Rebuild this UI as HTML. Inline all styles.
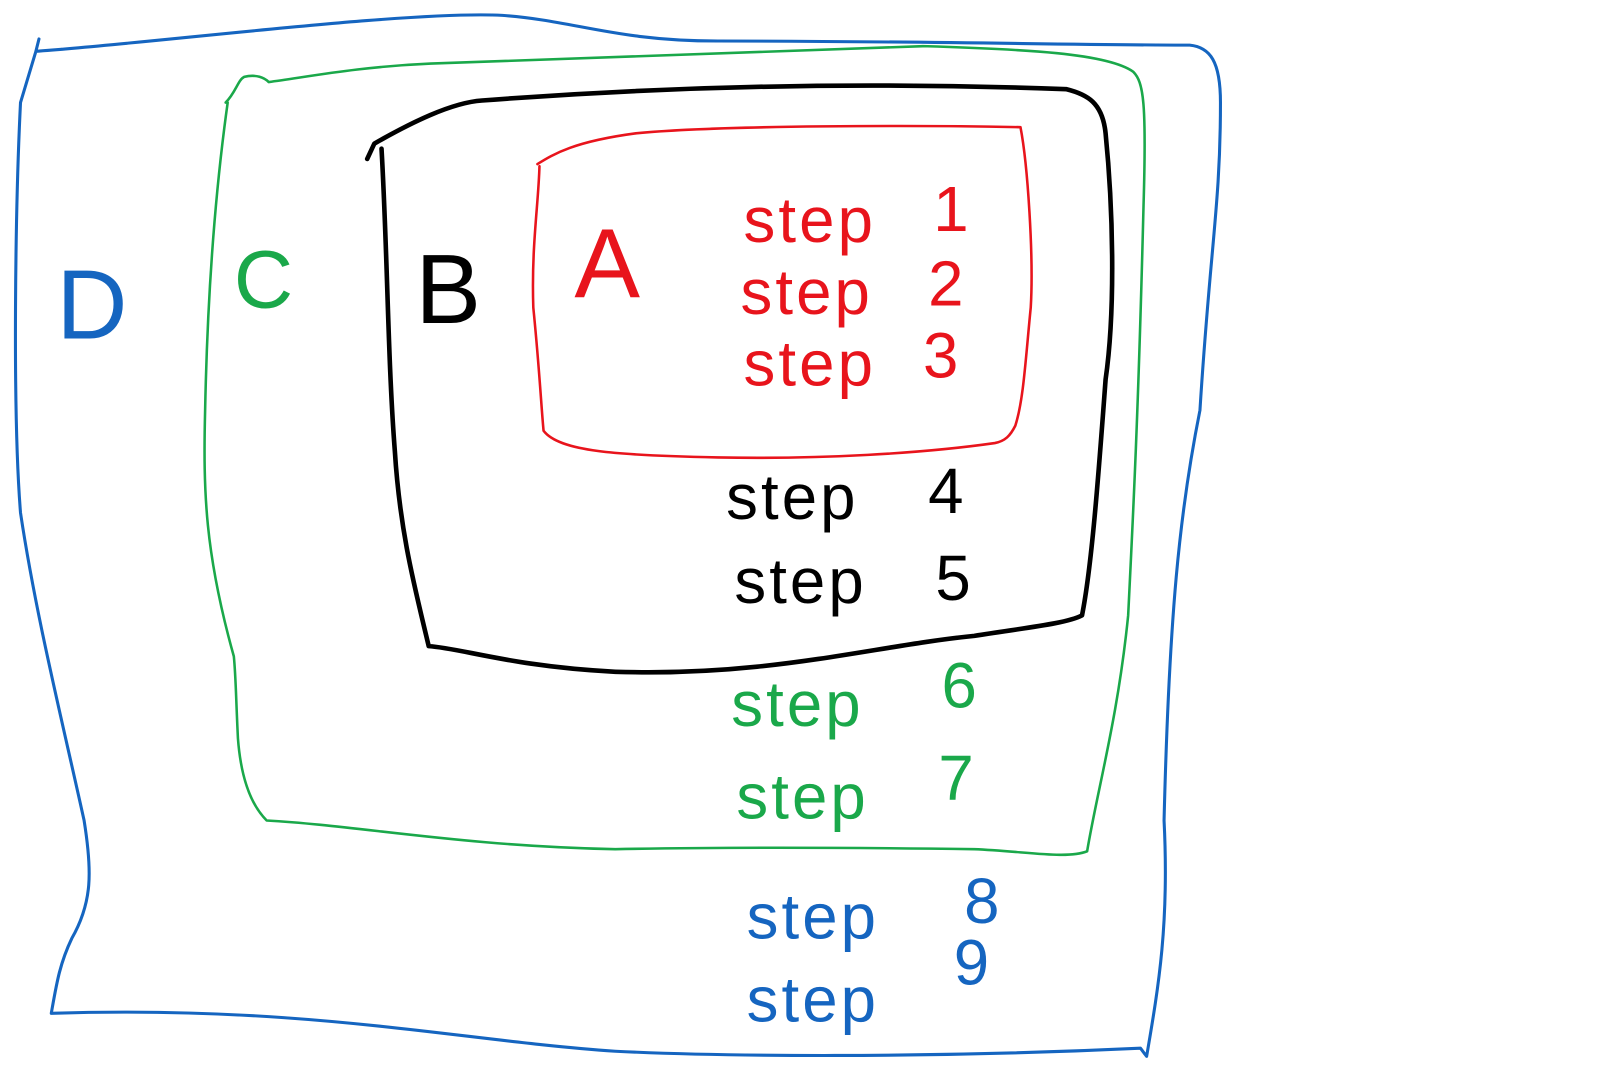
<!DOCTYPE html>
<html><head><meta charset="utf-8"><style>
html,body{margin:0;padding:0;background:#fff;width:1600px;height:1067px;overflow:hidden}
svg{display:block}
text{font-family:"Liberation Sans",sans-serif}
</style></head><body>
<svg width="1600" height="1067" viewBox="0 0 1600 1067" xmlns="http://www.w3.org/2000/svg">
<g transform="scale(1.0256)">
<g fill="none" stroke-linecap="round" stroke-linejoin="round">
<path d="M38,38 L35,50 L60,48 M35,50 C150,42 400,10 490,15 C560,20 600,40 700,40 C900,40 1050,44 1160,44 C1180,46 1190,60 1190,100 C1190,200 1180,240 1170,400 C1150,500 1140,600 1135,800 C1140,900 1130,960 1118,1030 L1112,1022 C900,1032 700,1030 600,1025 C450,1015 300,980 50,988 C55,960 58,940 70,915 C90,880 90,850 82,800 C60,700 35,600 20,500 C12,400 15,200 20,100 Z" stroke="#1565c0" stroke-width="3"/>
<path d="M220,100 C230,90 232,78 238,75 C250,72 258,76 262,80 C300,75 350,65 420,62 C500,60 700,52 900,45 C1000,48 1080,52 1105,70 C1115,80 1118,100 1115,200 C1110,400 1105,500 1100,600 C1090,700 1070,770 1060,830 C1040,838 1000,830 950,828 C800,826 700,826 600,828 C450,825 350,805 260,800 C245,785 235,760 232,720 C230,680 230,660 228,640 C200,540 198,480 200,400 C202,300 208,200 222,100 Z" stroke="#1aa84a" stroke-width="2.5"/>
<path d="M358,155 L365,140 C400,120 440,100 470,98 C600,88 800,78 1040,87 C1060,92 1075,100 1078,130 C1085,200 1088,300 1078,370 C1072,450 1065,550 1055,600 C1040,608 1000,612 950,620 C850,630 750,660 600,655 C500,650 450,632 418,630 C405,575 390,520 385,440 C378,350 378,250 372,145" stroke="#000" stroke-width="4.5"/>
<path d="M524,160 C540,150 560,138 620,130 C700,122 900,122 995,124 C1002,160 1008,250 1005,300 C1000,350 998,390 990,415 C985,425 980,430 970,432 C900,442 800,448 700,446 C600,444 545,440 530,420 C528,400 526,360 520,300 C518,240 525,200 526,162" stroke="#e8141c" stroke-width="2.5"/>
</g>
<g font-size="96">
<text x="55" y="330" fill="#1565c0">D</text>
<text x="228" y="300" fill="#1aa84a" font-size="80">C</text>
<text x="405" y="315" fill="#000">B</text>
<text x="560" y="290" fill="#e8141c">A</text>
</g>
<g font-size="62" letter-spacing="3">
<text x="725" y="236" fill="#e8141c">step</text><text x="910" y="225" fill="#e8141c">1</text>
<text x="722" y="306" fill="#e8141c">step</text><text x="905" y="298" fill="#e8141c">2</text>
<text x="725" y="376" fill="#e8141c">step</text><text x="900" y="368" fill="#e8141c">3</text>
<text x="708" y="506" fill="#000">step</text><text x="905" y="500" fill="#000">4</text>
<text x="716" y="588" fill="#000">step</text><text x="912" y="585" fill="#000">5</text>
<text x="713" y="708" fill="#1aa84a">step</text><text x="918" y="690" fill="#1aa84a">6</text>
<text x="718" y="798" fill="#1aa84a">step</text><text x="915" y="780" fill="#1aa84a">7</text>
<text x="728" y="915" fill="#1565c0">step</text><text x="940" y="900" fill="#1565c0">8</text>
<text x="728" y="996" fill="#1565c0">step</text><text x="930" y="960" fill="#1565c0">9</text>
</g>
</g>
</svg>
</body></html>
